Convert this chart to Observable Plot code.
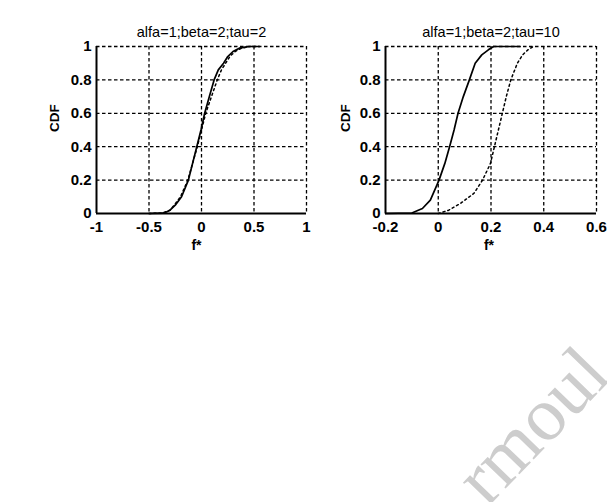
<!DOCTYPE html>
<html>
<head>
<meta charset="utf-8">
<script src="https://cdn.jsdelivr.net/npm/d3@7"></script>
<script src="https://cdn.jsdelivr.net/npm/@observablehq/plot@0.6"></script>
<style>
  body { margin: 0; background: #fff; }
  #wrap { position: relative; width: 607px; height: 502px; overflow: hidden; background: #fff; }
  #wrap > svg { position: absolute; top: 0; }
</style>
</head>
<body>
<div id="wrap"></div>
<script>
// Shared y ticks (CDF)
const yTicks = [0, 0.2, 0.4, 0.6, 0.8, 1];

// Panel 1: alfa=1; beta=2; tau=2
const tau2Title = "alfa=1;beta=2;tau=2";
const tau2XTicks = [-1, -0.5, 0, 0.5, 1];
const tau2SolidF   = [-0.5, -0.36, -0.3, -0.25, -0.19, -0.125, -0.085, -0.045, -0.005, 0.03, 0.075, 0.12, 0.16, 0.21, 0.25, 0.3, 0.36, 0.45, 0.55];
const tau2SolidCdf = [0, 0.002, 0.02, 0.05, 0.1, 0.2, 0.3, 0.4, 0.5, 0.6, 0.7, 0.8, 0.86, 0.9, 0.94, 0.97, 0.99, 1, 1];
const tau2DotF     = [-0.5, -0.38, -0.3, -0.26, -0.2, -0.13, -0.085, -0.04, 0.0, 0.04, 0.095, 0.15, 0.19, 0.23, 0.27, 0.32, 0.38, 0.46, 0.55];
const tau2DotCdf   = [0, 0.002, 0.02, 0.05, 0.1, 0.2, 0.3, 0.4, 0.5, 0.6, 0.7, 0.8, 0.86, 0.9, 0.94, 0.97, 0.99, 1, 1];

// Panel 2: alfa=1; beta=2; tau=10
const tau10Title = "alfa=1;beta=2;tau=10";
const tau10XTicks = [-0.2, 0, 0.2, 0.4, 0.6];
const tau10SolidF   = [-0.2, -0.1, -0.06, -0.03, 0.003, 0.025, 0.043, 0.06, 0.075, 0.095, 0.118, 0.14, 0.165, 0.19, 0.21, 0.25, 0.31];
const tau10SolidCdf = [0, 0.003, 0.03, 0.08, 0.2, 0.3, 0.4, 0.5, 0.6, 0.7, 0.8, 0.9, 0.95, 0.98, 1, 1, 1];
const tau10DotF     = [0, 0.04, 0.084, 0.135, 0.168, 0.198, 0.213, 0.228, 0.243, 0.258, 0.275, 0.3, 0.32, 0.34, 0.36];
const tau10DotCdf   = [0, 0.02, 0.06, 0.12, 0.2, 0.3, 0.4, 0.5, 0.6, 0.7, 0.8, 0.9, 0.95, 0.98, 1];

const yLabel = "CDF";
const xLabel = "f*";
const stamp = "rmoul";

const FONT = "'Liberation Sans', Arial, sans-serif";
const zip = (xs, ys) => xs.map((x, i) => ({f: x, cdf: ys[i]}));

function panel({title, xTicks, solid, dotted, width, marginLeft, marginRight, yLabelDx, xLabelDx}) {
  const xDomain = [xTicks[0], xTicks[xTicks.length - 1]];
  const grid = {stroke: "#000", strokeOpacity: 1, strokeWidth: 1.3, strokeDasharray: "3.5,2.5"};
  return Plot.plot({
    width,
    height: 255,
    marginTop: 46,
    marginBottom: 42,
    marginLeft,
    marginRight,
    x: {domain: xDomain, label: null},
    y: {domain: [0, 1], label: null},
    style: {fontFamily: FONT, fontSize: "15px", fontWeight: "bold", background: "none", color: "#000", overflow: "visible"},
    marks: [
      Plot.gridX(xTicks.slice(1), grid),
      Plot.gridY(yTicks.slice(1), grid),
      Plot.axisX(xTicks, {tickSize: 0, tickPadding: 8, label: null, tickFormat: d => String(d), fontWeight: "bold"}),
      Plot.axisY(yTicks, {tickSize: 0, tickPadding: 5, label: null, tickFormat: d => String(d), fontWeight: "bold"}),
      Plot.ruleX([xDomain[0]], {stroke: "#000", strokeWidth: 2}),
      Plot.ruleY([0], {stroke: "#000", strokeWidth: 2}),
      Plot.line(dotted, {x: "f", y: "cdf", stroke: "#000", strokeWidth: 1.5, strokeDasharray: "2,3"}),
      Plot.line(solid, {x: "f", y: "cdf", stroke: "#000", strokeWidth: 1.7}),
      Plot.text([title], {frameAnchor: "top", lineAnchor: "middle", dy: -14, fontSize: 14.5, fontWeight: "normal", fill: "#000"}),
      Plot.text([yLabel], {frameAnchor: "left", lineAnchor: "middle", rotate: -90, dx: yLabelDx, dy: 2, fontSize: 13.5, fontWeight: "bold", fill: "#000"}),
      Plot.text([xLabel], {frameAnchor: "bottom", lineAnchor: "middle", dx: xLabelDx, dy: 32, fontSize: 14, fontWeight: "bold", fill: "#000"})
    ]
  });
}

const wrap = document.getElementById("wrap");

const left = panel({
  title: tau2Title, xTicks: tau2XTicks,
  solid: zip(tau2SolidF, tau2SolidCdf), dotted: zip(tau2DotF, tau2DotCdf),
  width: 315, marginLeft: 96, marginRight: 9, yLabelDx: -42, xLabelDx: -5
});
left.style.left = "0px";
wrap.appendChild(left);

const right = panel({
  title: tau10Title, xTicks: tau10XTicks,
  solid: zip(tau10SolidF, tau10SolidCdf), dotted: zip(tau10DotF, tau10DotCdf),
  width: 292, marginLeft: 70, marginRight: 11, yLabelDx: -40, xLabelDx: -2
});
right.style.left = "315px";
wrap.appendChild(right);

// Faint diagonal stamp in the lower right corner
const overlay = d3.select(wrap).append("svg")
  .attr("width", 607).attr("height", 502)
  .style("left", "0px").style("pointer-events", "none");
overlay.append("text")
  .attr("x", 487).attr("y", 508)
  .attr("transform", "rotate(-46 487 508)")
  .attr("font-family", "'Liberation Serif', 'DejaVu Serif', serif")
  .attr("font-size", 76)
  .attr("fill", "#cdcdcd")
  .text(stamp);
</script>
</body>
</html>
